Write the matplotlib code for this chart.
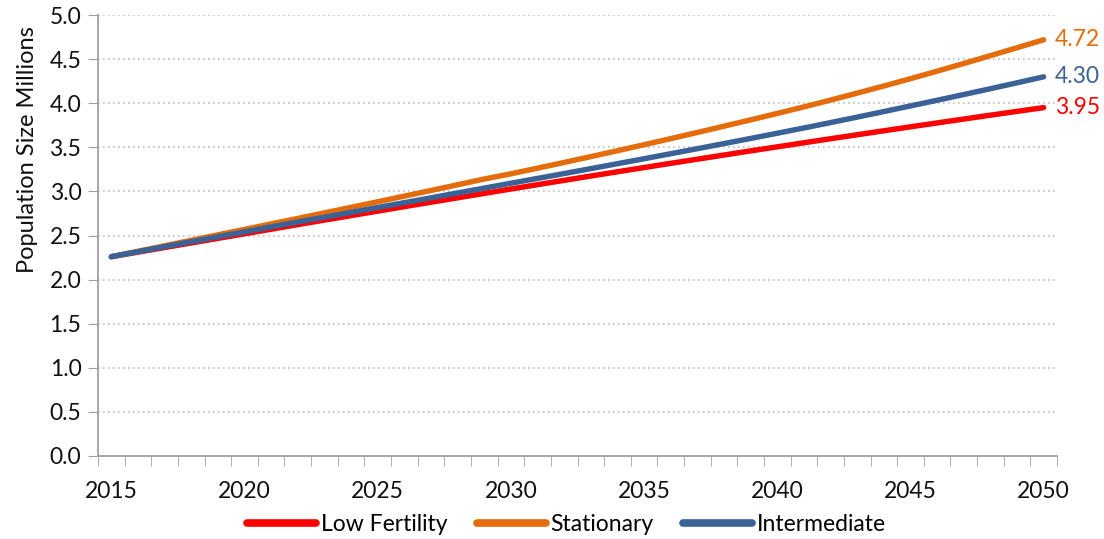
import numpy as np
import matplotlib.pyplot as plt
from matplotlib.ticker import FixedLocator, MultipleLocator

# Data
years = list(range(2015, 2051))

low_fertility = [2.260, 2.312, 2.364, 2.416, 2.468, 2.520, 2.572, 2.624, 2.675, 2.726,
                 2.777, 2.828, 2.878, 2.928, 2.978, 3.028, 3.077, 3.126, 3.175, 3.223,
                 3.271, 3.319, 3.366, 3.413, 3.460, 3.506, 3.552, 3.598, 3.643, 3.688,
                 3.733, 3.777, 3.821, 3.865, 3.908, 3.951]

stationary = [2.260, 2.322, 2.384, 2.446, 2.508, 2.570, 2.632, 2.694, 2.757, 2.820,
              2.883, 2.947, 3.011, 3.076, 3.141, 3.200, 3.264, 3.329, 3.395, 3.462,
              3.530, 3.599, 3.669, 3.740, 3.812, 3.885, 3.959, 4.036, 4.115, 4.196,
              4.279, 4.364, 4.451, 4.540, 4.630, 4.720]

intermediate = [2.260, 2.317, 2.374, 2.430, 2.486, 2.542, 2.598, 2.653, 2.708, 2.763,
                2.818, 2.873, 2.928, 2.983, 3.038, 3.093, 3.148, 3.203, 3.259, 3.315,
                3.371, 3.428, 3.485, 3.543, 3.601, 3.660, 3.720, 3.781, 3.843, 3.906,
                3.970, 4.034, 4.099, 4.165, 4.232, 4.300]

series_names = ["Low Fertility", "Stationary", "Intermediate"]
series_colors = ["#FF0000", "#E46C0A", "#3A6296"]
end_labels = ["3.95", "4.72", "4.30"]

plt.rcParams['font.family'] = ['Lato', 'DejaVu Sans']

fig = plt.figure(figsize=(11.04, 5.39), dpi=100)
ax = fig.add_axes([0.0888, 0.154, 0.8686, 0.818])

x = np.arange(len(years))
all_series = [low_fertility, stationary, intermediate]
for vals, name, col in zip(all_series, series_names, series_colors):
    ax.plot(x, vals, color=col, lw=3.9, solid_capstyle='round', label=name)

# end value labels
for vals, lab, col in zip(all_series, end_labels, series_colors):
    ax.annotate(lab, xy=(x[-1], vals[-1]), xytext=(8, 0), textcoords='offset points',
                color=col, fontsize=16.5, va='center', ha='left', annotation_clip=False)

ax.set_xlim(-0.5, len(years) - 0.5)
ax.set_ylim(0, 5)

# category style x axis
ax.xaxis.set_major_locator(FixedLocator(x[::5]))
ax.set_xticklabels([str(y) for y in years[::5]])
ax.xaxis.set_minor_locator(FixedLocator(np.arange(-0.5, len(years), 1.0)))
ax.tick_params(axis='x', which='major', length=0, pad=18, labelsize=16.5, labelcolor='#111111')
ax.tick_params(axis='x', which='minor', length=7, color='#A0A0A0', direction='out')

ax.yaxis.set_major_locator(MultipleLocator(0.5))
ax.yaxis.set_major_formatter(plt.FuncFormatter(lambda v, p: f"{v:.1f}"))
ax.tick_params(axis='y', length=7, color='#A0A0A0', labelsize=16.5, pad=5, labelcolor='#111111')

ax.grid(axis='y', linestyle=(0, (1, 2)), color='#BDBDBD', lw=1.2)
ax.set_axisbelow(True)

for s in ['top', 'right']:
    ax.spines[s].set_visible(False)
for s in ['left', 'bottom']:
    ax.spines[s].set_color('#A0A0A0')
    ax.spines[s].set_linewidth(1.3)

ax.set_ylabel("Population Size Millions", fontsize=17, color='#111111')
ax.yaxis.set_label_coords(-0.063, 0.695)

leg = fig.legend(loc='lower center', bbox_to_anchor=(0.513, -0.03), ncol=3, frameon=False,
                 fontsize=16.5, handlelength=3.0, handletextpad=0.2, columnspacing=1.3)
for h in leg.get_lines():
    h.set_linewidth(5.5)

fig.savefig("out.png", dpi=100)
